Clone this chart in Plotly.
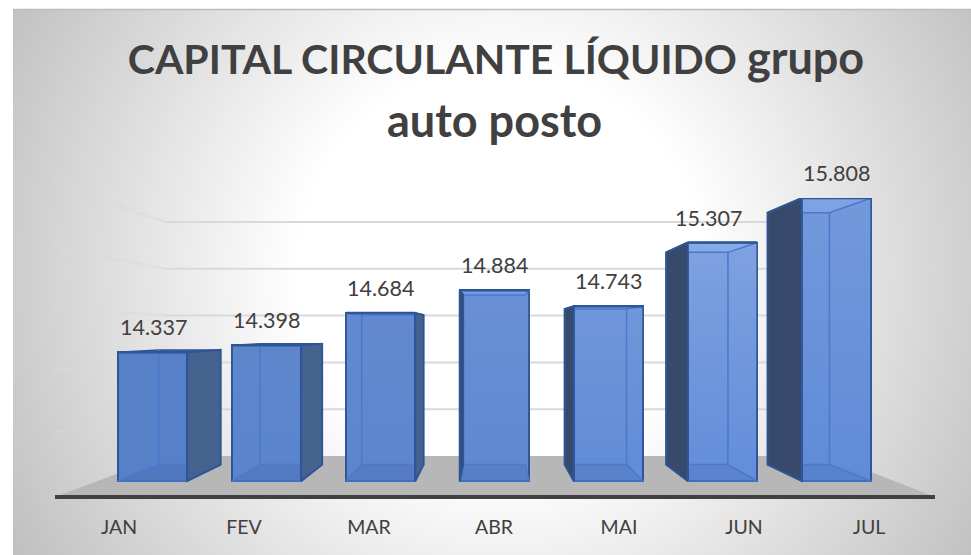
import base64
import plotly.graph_objects as go

# ---- data -------------------------------------------------------------
meses = ["JAN", "FEV", "MAR", "ABR", "MAI", "JUN", "JUL"]
valores = [14337, 14398, 14684, 14884, 14743, 15307, 15808]
rotulos = ["14.337", "14.398", "14.684", "14.884", "14.743", "15.307", "15.808"]
desvio_rotulo = [1, 0, 0, 0, 0, -14, 0]
titulo_caps = "CAPITAL CIRCULANTE LÍQUIDO"
titulo_resto = "grupo"
titulo_linha2 = "auto posto"
degraus_grade = [13500, 14000, 14500, 15000, 15500]

# ---- layout constants --------------------------------------------------
W, H = 971, 555
EIXO_Y_MIN, EIXO_Y_MAX = 13073, 15701      # the bars are clipped by the axis maximum
PX_TOPO, PX_BASE = 198, 495
PX_X0, PX_PASSO = 152.5, 114
LARG = 0.61
ESCALA = 0.89                               # back plane size relative to front plane
FUNDO_Y = 13197                             # bar foot on the value axis


def paper_x(px):
    return px / W


def paper_y(py):
    return 1 - py / H


def x_from_px(px):
    return (px - PX_X0) / PX_PASSO


def y_from_py(py):
    return EIXO_Y_MIN + (PX_BASE - py) * (EIXO_Y_MAX - EIXO_Y_MIN) / (PX_BASE - PX_TOPO)


VP_X, VP_Y = x_from_px(491), y_from_py(332)


def fundo(x, y):
    """Project a front-plane point on to the back plane of the bar."""
    return VP_X + ESCALA * (x - VP_X), VP_Y + ESCALA * (y - VP_Y)


fig = go.Figure()

COR_FRENTE = ["#5680C8", "#5A84CC", "#5C85CE", "#5E88D2", "#608BD6", "#628DDA", "#608BD8"]
BRILHO = [0.0, 0.02, 0.04, 0.07, 0.10, 0.18, 0.12]
COR_BORDA = "#2F5597"
COR_INTERNA = "#4A78CC"
COR_DIR = "#46628F"
COR_ESQ = "#384A6C"

# front faces
fig.add_trace(go.Bar(
    x=list(range(len(meses))), y=[v - FUNDO_Y for v in valores], base=FUNDO_Y,
    width=LARG,
    marker=dict(color=COR_FRENTE, line=dict(color=COR_BORDA, width=2)),
    xaxis="x", yaxis="y", showlegend=False, hoverinfo="skip",
))

for i, v in enumerate(valores):
    topo = min(v, EIXO_Y_MAX)
    xl, xr = i - LARG / 2, i + LARG / 2
    (bxl, by0), (bxr, byt) = fundo(xl, FUNDO_Y), fundo(xr, topo)
    # soft vertical sheen on the front face
    fig.add_trace(go.Scatter(
        x=[xl, xr, xr, xl, xl], y=[FUNDO_Y, FUNDO_Y, topo, topo, FUNDO_Y],
        mode="none", fill="toself",
        fillgradient=dict(type="vertical", colorscale=[
            [0, "rgba(255,255,255,0)"], [1, f"rgba(255,255,255,{BRILHO[i]})"]]),
        showlegend=False, hoverinfo="skip"))
    # shaded bottom of the box, seen through the front face
    fig.add_trace(go.Scatter(
        x=[xl, bxl, bxr, xr, xl], y=[FUNDO_Y, by0, by0, FUNDO_Y, FUNDO_Y],
        mode="lines", fill="toself", fillcolor="rgba(40,70,130,0.13)",
        line=dict(color=COR_INTERNA, width=1.5), cliponaxis=False,
        showlegend=False, hoverinfo="skip"))
    # top face of the box
    fig.add_trace(go.Scatter(
        x=[xl, bxl, bxr, xr, xl], y=[topo, byt, byt, topo, topo],
        mode="lines", fill="toself",
        fillcolor="rgba(190,215,255,0.16)" if byt < topo else "rgba(60,100,170,0.9)",
        line=dict(color=COR_INTERNA if byt < topo else COR_BORDA, width=1.5), cliponaxis=False,
        showlegend=False, hoverinfo="skip"))
    # back-plane vertical edge visible through the front
    xint = bxl if bxl > xl else bxr
    fig.add_trace(go.Scatter(
        x=[xint, xint], y=[by0, byt], mode="lines",
        line=dict(color=COR_INTERNA, width=1.5), cliponaxis=False,
        showlegend=False, hoverinfo="skip"))
    # outer side face
    if bxr > xr:
        lado_x = [xr, bxr, bxr, xr, xr]
        cor = COR_DIR
    else:
        lado_x = [xl, bxl, bxl, xl, xl]
        cor = COR_ESQ
    fig.add_trace(go.Scatter(
        x=lado_x, y=[topo, byt, by0, FUNDO_Y, topo],
        mode="lines", fill="toself", fillcolor=cor,
        line=dict(color=COR_BORDA, width=2), cliponaxis=False,
        showlegend=False, hoverinfo="skip"))
    # top edge of the front face (the axis clips the bar's own outline)
    fig.add_trace(go.Scatter(
        x=[xl, xr], y=[topo, topo], mode="lines",
        line=dict(color=COR_BORDA, width=2.5), cliponaxis=False,
        showlegend=False, hoverinfo="skip"))

# month labels on the floor's front edge
fig.add_trace(go.Scatter(
    x=meses, y=[EIXO_Y_MIN] * len(meses), mode="none",
    xaxis="x2", yaxis="y", showlegend=False, hoverinfo="skip"))

# data labels
anot = []
for i, (v, r, d) in enumerate(zip(valores, rotulos, desvio_rotulo)):
    anot.append(dict(
        x=i, y=min(v, EIXO_Y_MAX), xref="x", yref="y", text=r, showarrow=False,
        yanchor="middle", xshift=d, yshift=25,
        font=dict(family="Lato", size=21.5, color="#404040")))
anot.append(dict(
    x=494 / W, y=paper_y(120), xref="paper", yref="paper", text=titulo_linha2, showarrow=False,
    xanchor="center", yanchor="middle",
    font=dict(family="Lato", size=45, color="#404040", weight="bold")))

# background, floor, gridlines
shapes = []
shapes.append(dict(type="path", layer="below", xref="paper", yref="paper",
                   path=f"M{paper_x(60)},{paper_y(495)} L{paper_x(165)},{paper_y(456)} "
                        f"L{paper_x(830)},{paper_y(456)} L{paper_x(930)},{paper_y(495)} Z",
                   fillcolor="#B7B7B7", line=dict(width=0)))
parede = {13500: 433, 14000: 370, 14500: 307, 15000: 247, 15500: 183}
for g in degraus_grade:
    py = 456 - (g - 13000) * 46.8 / 500
    shapes.append(dict(type="line", layer="below", xref="paper", yref="paper",
                       x0=paper_x(165), x1=paper_x(830), y0=paper_y(py), y1=paper_y(py),
                       line=dict(color="#D9D9D9", width=2)))
    shapes.append(dict(type="line", layer="below", xref="paper", yref="paper",
                       x0=paper_x(53), x1=paper_x(165), y0=paper_y(parede[g]), y1=paper_y(py),
                       line=dict(color="rgba(217,217,217,0.5)", width=2)))
shapes.append(dict(type="line", layer="below", xref="paper", yref="paper",
                   x0=paper_x(13), x1=1, y0=paper_y(9.5), y1=paper_y(9.5),
                   line=dict(color="#BDBDBD", width=1.5)))

svg = f"""<svg xmlns='http://www.w3.org/2000/svg' width='{W-13}' height='{H-9}'>
<defs><radialGradient id='g' gradientUnits='userSpaceOnUse' cx='{500-13}' cy='{270-9}' r='560'>
<stop offset='0.36' stop-color='#ffffff'/><stop offset='1' stop-color='#c0c0c0'/>
</radialGradient></defs><rect width='100%' height='100%' fill='url(#g)'/></svg>"""
fonte_fundo = "data:image/svg+xml;base64," + base64.b64encode(svg.encode()).decode()

fig.update_layout(
    width=W, height=H, autosize=False,
    margin=dict(l=0, r=0, t=0, b=0, pad=0),
    paper_bgcolor="white", plot_bgcolor="rgba(0,0,0,0)",
    showlegend=False, bargap=0,
    title=dict(text=f'{titulo_caps} <span style="font-size:45px">{titulo_resto}</span>',
               x=496 / W, xanchor="center", y=paper_y(60), yanchor="middle",
               font=dict(family="Lato", size=41, color="#404040", weight="bold")),
    xaxis=dict(domain=[0, 1], range=[x_from_px(0), x_from_px(W)], visible=False, fixedrange=True),
    xaxis2=dict(type="category", categoryorder="array", categoryarray=meses,
                domain=[55 / W, 935 / W], range=[(55 - 119) / 125, (935 - 119) / 125],
                anchor="y", side="bottom", showgrid=False, zeroline=False,
                showline=True, linecolor="#404040", linewidth=4,
                ticks="outside", ticklen=12, tickcolor="rgba(0,0,0,0)",
                tickfont=dict(family="Lato", size=19.5, color="#404040"), fixedrange=True),
    yaxis=dict(domain=[(H - PX_BASE) / H, (H - PX_TOPO) / H], range=[EIXO_Y_MIN, EIXO_Y_MAX],
               visible=False, fixedrange=True),
    annotations=anot, shapes=shapes,
    images=[dict(source=fonte_fundo, xref="paper", yref="paper", x=13 / W, y=1 - 9 / H,
                 sizex=(W - 13) / W, sizey=(H - 9) / H, xanchor="left", yanchor="top",
                 sizing="stretch", layer="below")],
)
fig.write_html("out.html", config={"displayModeBar": False},
               post_script="document.body.style.margin='0';")
